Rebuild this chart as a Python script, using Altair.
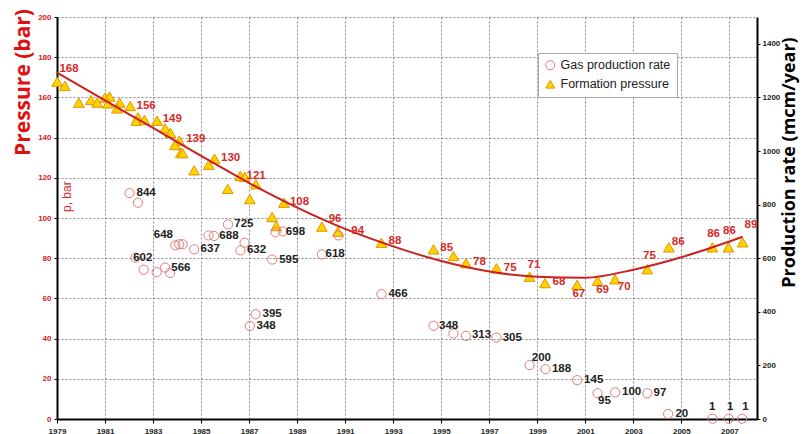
import altair as alt
import pandas as pd

# ---------------- data ----------------
# Formation pressure (bar) - triangles
p_year = [1979.01, 1979.33, 1979.91, 1980.41, 1980.67, 1981.00, 1981.19, 1981.12, 1981.61, 1981.50,
          1982.05, 1982.37, 1982.30, 1982.64, 1983.17, 1983.50, 1983.72, 1984.09, 1983.91, 1984.16,
          1984.23, 1984.71, 1985.32, 1985.56, 1986.11, 1986.63, 1986.82, 1987.03, 1987.28, 1987.96,
          1988.13, 1988.45, 1990.03, 1990.70, 1992.51, 1994.68, 1995.51, 1996.03, 1997.30, 1998.68,
          1999.32, 2000.66, 2001.51, 2002.24, 2003.58, 2004.48, 2006.29, 2006.96, 2007.55]
p_bar = [167.8, 165.7, 157.4, 158.7, 157.4, 159.9, 160.4, 157.0, 157.4, 154.5,
         155.7, 150.1, 148.4, 148.8, 148.4, 144.6, 142.4, 138.5, 136.3, 132.5,
         132.2, 123.7, 126.5, 129.5, 114.5, 120.9, 120.5, 109.4, 116.8, 100.5,
         96.0, 107.6, 95.7, 93.2, 87.7, 84.4, 81.1, 77.5, 75.0, 70.8,
         67.6, 66.7, 68.7, 69.5, 74.5, 85.4, 85.4, 85.4, 87.9]

# Gas production rate (mcm/year) - circles
g_year = [1982.02, 1982.37, 1982.27, 1982.61, 1983.15, 1983.50, 1983.71, 1983.93, 1984.09, 1984.23,
          1984.71, 1985.31, 1985.54, 1986.12, 1986.81, 1986.64, 1987.96, 1988.10, 1988.41, 1987.27,
          1987.03, 1990.03, 1990.72, 1992.51, 1994.68, 1995.51, 1996.03, 1997.30, 1998.68, 1999.34,
          2000.66, 2001.51, 2002.24, 2003.58, 2004.45, 2006.30, 2006.97, 2007.53]
g_rate = [843, 807, 602, 557, 548, 565, 545, 648, 652, 652,
          633, 685, 683, 726, 658, 629, 595, 697, 700, 391,
          347, 614, 685, 466, 348, 319, 310, 304, 201, 186,
          145, 96, 99, 96, 19, 1, 1, 1]

# Pressure trend curve (bar)
t_year = [1979, 1981, 1983, 1985, 1987, 1989, 1991, 1993, 1995, 1997, 1999, 2001, 2003, 2005, 2007, 2007.55]
t_bar = [172.3, 158.5, 144.8, 130.9, 117.4, 105.2, 94.6, 85.9, 78.6, 73.4, 70.8, 70.3, 74.3, 80.5, 88.3, 90.7]

# Red pressure labels
pl_text = ["168", "156", "149", "139", "130", "121", "108", "96", "94", "88", "85", "78", "75", "71",
           "68", "67", "69", "70", "75", "86", "86", "86", "89"]
pl_year = [1979.50, 1982.71, 1983.80, 1984.78, 1986.23, 1987.29, 1989.10, 1990.58, 1991.52, 1993.07,
           1995.23, 1996.59, 1997.87, 1998.86, 1999.90, 2000.73, 2001.72, 2002.62, 2003.67, 2004.87,
           2006.34, 2007.00, 2007.90]
pl_bar = [174.1, 155.7, 149.1, 139.2, 130.0, 120.9, 108.1, 99.4, 93.5, 88.7,
          84.9, 78.0, 75.0, 76.6, 68.3, 62.2, 64.2, 65.8, 81.1, 88.2,
          92.0, 93.7, 96.5]

# Black production labels
gl_text = ["844", "602", "648", "566", "637", "688", "725", "632", "698", "595", "395", "348", "618",
           "466", "348", "313", "305", "200", "188", "145", "95", "100", "97", "20", "1", "1", "1"]
gl_year = [1982.71, 1982.57, 1983.43, 1984.16, 1985.38, 1986.16, 1986.78, 1987.31, 1988.93, 1988.65,
           1987.96, 1987.71, 1990.58, 1993.20, 1995.31, 1996.68, 1997.96, 1999.17, 2000.01, 2001.35,
           2001.80, 2002.93, 2004.11, 2005.02, 2006.28, 2007.03, 2007.67]
gl_rate = [843, 602, 685, 565, 633, 683, 726, 629, 697, 595,
           391, 347, 617, 466, 347, 313, 304, 228, 186, 145,
           67, 99, 96, 19, 44, 44, 44]

x_ticks = list(range(1979, 2008, 2))
left_ticks = list(range(0, 201, 20))
right_ticks = list(range(0, 1401, 200))
series_names = ["Gas production rate", "Formation pressure"]

# ---------------- tables ----------------
df_p = pd.DataFrame({"year": p_year, "bar": p_bar, "series": series_names[1]})
df_g = pd.DataFrame({"year": g_year, "rate": g_rate, "series": series_names[0]})
df_t = pd.DataFrame({"year": t_year, "bar": t_bar})
df_pl = pd.DataFrame({"year": pl_year, "bar": pl_bar, "label": pl_text})
df_gl = pd.DataFrame({"year": gl_year, "rate": gl_rate, "label": gl_text})
df_pb = pd.DataFrame({"year": [1979.40], "bar": [110.6], "label": ["p, bar"]})

# ---------------- scales / axes ----------------
xs = alt.Scale(domain=[1979, 2008.15], nice=False, zero=False)
ys_p = alt.Scale(domain=[0, 200], nice=False)
ys_g = alt.Scale(domain=[0, 1500], nice=False)

x_axis = alt.Axis(values=x_ticks, format="d", title=None, labelFont="Liberation Sans",
                  labelFontSize=8, labelFontWeight="bold", labelColor="#222", labelFlush=False,
                  grid=True, gridDash=[2, 2], gridColor="#8a8a8a", gridWidth=1,
                  domainColor="#000", domainWidth=2, tickColor="#000", tickSize=4,
                  labelPadding=4)
left_axis = alt.Axis(values=left_ticks, format="d", title="Pressure (bar)",
                     labelFont="Liberation Sans", labelFontSize=8, labelFontWeight="bold",
                     labelColor="#d42020", labelPadding=3, labelFlush=False,
                     grid=True, gridDash=[2, 2], gridColor="#8a8a8a", gridWidth=1,
                     domainColor="#000", domainWidth=2, tickColor="#000", tickSize=3,
                     titleFont="Open Sans", titleFontSize=21, titleFontWeight="bold",
                     titleColor="#e01010", titleAngle=270, titleX=-34, titleY=65,
                     titleAlign="center", titleBaseline="middle")
right_axis = alt.Axis(values=right_ticks, format="d", orient="right",
                      title="Production rate (mcm/year)",
                      labelFont="Liberation Sans", labelFontSize=8, labelFontWeight="bold",
                      labelColor="#222", labelPadding=2, labelFlush=False, grid=False,
                      domainColor="#000", domainWidth=2, tickColor="#000", tickSize=3,
                      titleFont="Open Sans", titleFontSize=18, titleFontWeight="bold",
                      titleColor="#000", titleAngle=270, titleX=32, titleY=145,
                      titleAlign="center", titleBaseline="middle")

X = alt.X("year:Q", scale=xs, axis=x_axis)
YP = alt.Y("bar:Q", scale=ys_p, axis=left_axis)
YG = alt.Y("rate:Q", scale=ys_g, axis=right_axis)

legend = alt.Legend(title=None, orient="none", legendX=481, legendY=36,
                    strokeColor="#aaaaaa", fillColor="white", padding=6,
                    labelFont="Liberation Sans", labelFontSize=12.5, labelColor="#222",
                    symbolSize=80, rowPadding=6, symbolStrokeWidth=1)
shape = alt.Shape("series:N", scale=alt.Scale(domain=series_names, range=["circle", "triangle-up"]),
                  legend=legend)
fill = alt.Fill("series:N", scale=alt.Scale(domain=series_names, range=["transparent", "#ffd200"]),
                legend=legend)
stroke = alt.Stroke("series:N", scale=alt.Scale(domain=series_names, range=["#e07b7b", "#e39400"]),
                    legend=legend)

# ---------------- pressure group ----------------
tri = alt.Chart(df_p).mark_point(filled=True, size=115, strokeWidth=1, opacity=1).encode(
    x=X, y=YP, shape=shape, fill=fill, stroke=stroke)
trend = alt.Chart(df_t).mark_line(color="#cc2020", strokeWidth=2, interpolate="monotone").encode(
    x=X, y=YP)
ptext = alt.Chart(df_pl).mark_text(font="Liberation Sans", fontSize=11.5, fontWeight="bold",
                                   color="#d42a2a").encode(x=X, y=YP, text="label:N")
pbar = alt.Chart(df_pb).mark_text(font="Liberation Sans", fontSize=12, angle=270,
                                  color="#d42a2a").encode(x=X, y=YP, text="label:N")
pressure = alt.layer(tri, trend, ptext, pbar)

# ---------------- production group ----------------
circ = alt.Chart(df_g).mark_point(filled=True, size=85, strokeWidth=1, opacity=1).encode(
    x=X, y=YG, shape=shape, fill=fill, stroke=stroke)
gtext = alt.Chart(df_gl).mark_text(font="Liberation Sans", fontSize=11.5, fontWeight="bold",
                                   color="#222").encode(x=X, y=YG, text="label:N")
production = alt.layer(circ, gtext)

chart = alt.layer(pressure, production).resolve_scale(y="independent").properties(
    width=700, height=402,
    padding={"left": 49, "top": 9, "right": 44, "bottom": 15},
    autosize=alt.AutoSizeParams(type="none"),
    background="white",
).configure_view(stroke=None)

chart.save("out.html", embed_options={"renderer": "svg", "actions": False})
